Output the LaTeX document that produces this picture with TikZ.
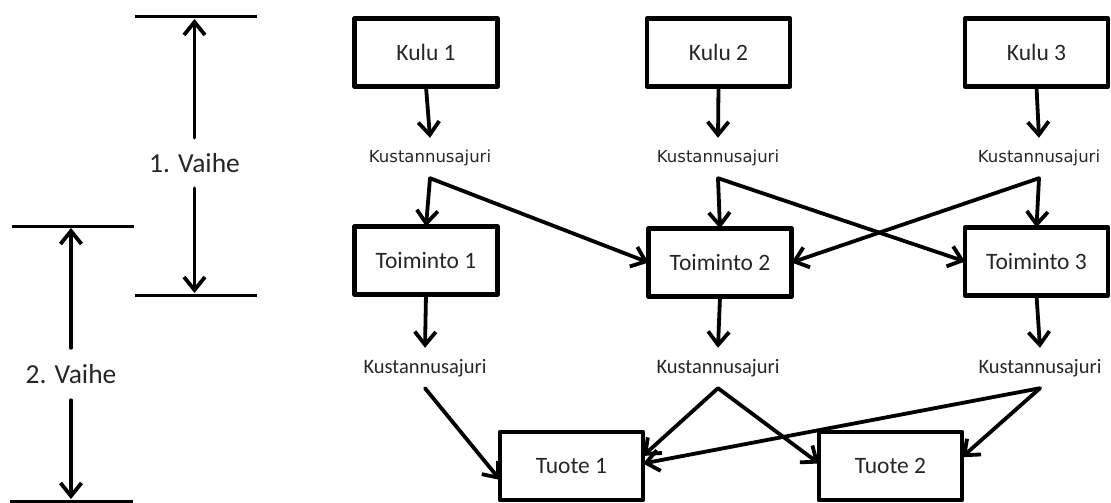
\documentclass[tikz,border=0pt]{standalone}
\usepackage{fontspec}
\setmainfont{Carlito}
\newfontfamily\dejavu{DejaVu Sans}
\usetikzlibrary{arrows.meta}
\definecolor{txt}{HTML}{262626}
\tikzset{
  box/.style={draw=black, line width=4.5pt, line join=round, minimum width=143pt, minimum height=68pt, inner sep=0pt, outer sep=0pt, text=txt, font=\fontsize{23.5}{28}\selectfont},
  drvtop/.style={inner sep=0pt, minimum height=40pt, text=txt, font=\dejavu\fontsize{16.5}{20}\selectfont},
  drvlow/.style={inner sep=0pt, minimum height=40pt, text=txt, font=\fontsize{20.5}{24}\selectfont},
  phase/.style={inner sep=0pt, text=txt, font=\fontsize{27.5}{32}\selectfont},
  arr/.style={line width=3.8pt, -{Straight Barb[length=13pt,width=21pt,line width=3.8pt]}, line cap=round, line join=round},
  guide/.style={line width=3pt},
}
\begin{document}
\begin{tikzpicture}[x=1pt,y=-1pt]
\useasboundingbox (0,0) rectangle (1111,503);
% boxes
\node[box] (k1) at (426,52.5) {Kulu 1};
\node[box] (k2) at (718.5,52.5) {Kulu 2};
\node[box] (k3) at (1036.5,52.5) {Kulu 3};
\node[box] (t1) at (426,260.5) {Toiminto 1};
\node[box] (t2) at (720,262.5) {Toiminto 2};
\node[box] (t3) at (1036.5,261.5) {Toiminto 3};
\node[box] (p1) at (571.5,466) {Tuote 1};
\node[box] (p2) at (890.5,466) {Tuote 2};
% drivers
\node[drvtop] (d1) at (430,158) {Kustannusajuri};
\node[drvtop] (d2) at (718,158) {Kustannusajuri};
\node[drvtop] (d3) at (1039,158) {Kustannusajuri};
\node[drvlow] (d4) at (425,368) {Kustannusajuri};
\node[drvlow] (d5) at (718,368) {Kustannusajuri};
\node[drvlow] (d6) at (1040,368) {Kustannusajuri};
% stage 1 arrows
\draw[arr] (k1.south) -- (d1.north);
\draw[arr] (k2.south) -- (d2.north);
\draw[arr] (k3.south) -- (d3.north);
\draw[arr] (d1.south) -- (t1.north);
\draw[arr] (d1.south) -- (t2.west);
\draw[arr] (d2.south) -- (t2.north);
\draw[arr] (d2.south) -- (t3.west);
\draw[arr] (d3.south) -- (t3.north);
\draw[arr] (d3.south) -- (t2.east);
% stage 2 arrows
\draw[arr] (t1.south) -- (d4.north);
\draw[arr] (t2.south) -- (d5.north);
\draw[arr] (t3.south) -- (d6.north);
\draw[arr] (d4.south) -- (p1.191);
\draw[arr] (d5.south) -- (p1.8);
\draw[arr] (d5.south) -- (p2.178);
\draw[arr] (d6.south) -- (p2.7);
\draw[arr] (d6.south) -- (p1.2);
% phase markers
\coordinate (a1) at (135,17);  \coordinate (b1) at (257,17);
\coordinate (a2) at (135,295); \coordinate (b2) at (257,295);
\coordinate (a3) at (12,226);  \coordinate (b3) at (134,226);
\coordinate (a4) at (10,501);  \coordinate (b4) at (133,501);
\draw[guide] (a1) -- (b1);
\draw[guide] (a2) -- (b2);
\draw[guide] (a3) -- (b3);
\draw[guide] (a4) -- (b4);
\node[phase, minimum height=50pt] (v1) at (194.5,163) {1. Vaihe};
\node[phase, minimum height=52pt] (v2) at (71,374) {2. Vaihe};
\coordinate (v1t) at (194.5,19);
\coordinate (v1b) at (194.5,293);
\coordinate (v2t) at (71,228);
\coordinate (v2b) at (71,499);
\draw[arr] (v1.north) -- (v1t);
\draw[arr] (v1.south) -- (v1b);
\draw[arr] (v2.north) -- (v2t);
\draw[arr] (v2.south) -- (v2b);
\end{tikzpicture}
\end{document}
